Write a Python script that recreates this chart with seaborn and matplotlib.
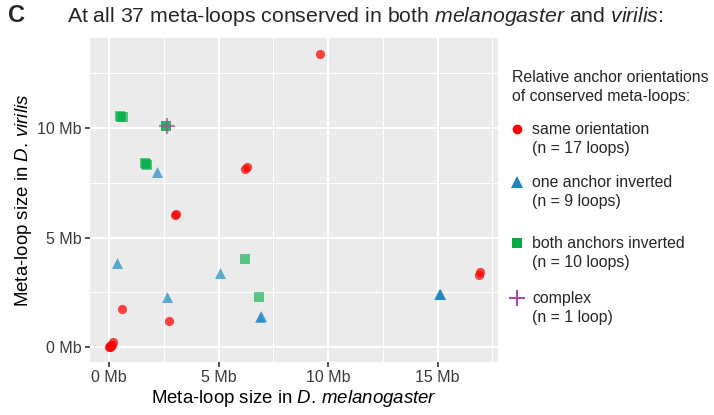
import matplotlib
matplotlib.use("Agg")
import matplotlib.pyplot as plt
import seaborn as sns
import pandas as pd
from matplotlib.lines import Line2D

# ---- data (Mb) ----
same_x = [9.62, 6.19, 6.30, 3.03, 3.08, 0.61, 2.76, 16.88, 16.95,
          0.02, 0.05, 0.08, 0.10, 0.06, 0.20, 0.12, 0.04]
same_y = [13.40, 8.11, 8.20, 6.01, 6.07, 1.72, 1.19, 3.31, 3.41,
          0.02, 0.04, 0.06, 0.08, 0.03, 0.21, 0.10, 0.01]
one_x = [2.18, 0.38, 5.08, 2.65, 6.88, 6.93, 15.08, 15.10, 15.12]
one_y = [8.00, 3.82, 3.36, 2.27, 1.36, 1.40, 2.42, 2.43, 2.41]
both_x = [0.50, 0.62, 0.56, 2.61, 1.64, 1.73, 1.69, 6.22, 6.86, 2.60]
both_y = [10.57, 10.48, 10.52, 10.08, 8.39, 8.30, 8.34, 4.02, 2.28, 10.07]
complex_x = [2.63]
complex_y = [10.08]

categories = ["same orientation", "one anchor inverted",
              "both anchors inverted", "complex"]
counts = ["(n = 17 loops)", "(n = 9 loops)", "(n = 10 loops)", "(n = 1 loop)"]
x_ticks = [0, 5, 10, 15]
y_ticks = [0, 5, 10]
tick_labels_x = ["0 Mb", "5 Mb", "10 Mb", "15 Mb"]
tick_labels_y = ["0 Mb", "5 Mb", "10 Mb"]

df = pd.concat([
    pd.DataFrame({"x": same_x, "y": same_y, "cat": categories[0]}),
    pd.DataFrame({"x": one_x, "y": one_y, "cat": categories[1]}),
    pd.DataFrame({"x": both_x, "y": both_y, "cat": categories[2]}),
    pd.DataFrame({"x": complex_x, "y": complex_y, "cat": categories[3]}),
], ignore_index=True)

colors = {categories[0]: "#FF0000", categories[1]: "#1A86C2",
          categories[2]: "#00AD45", categories[3]: "#A64CA6"}
alphas = {categories[0]: 0.72, categories[1]: 0.68,
          categories[2]: 0.62, categories[3]: 0.7}
markers = {categories[0]: "o", categories[1]: "^",
           categories[2]: "s", categories[3]: "+"}
sizes = {categories[0]: 44, categories[1]: 62,
         categories[2]: 50, categories[3]: 120}

sns.set_theme(style="darkgrid")
plt.rcParams["font.family"] = ["Liberation Sans", "DejaVu Sans"]
plt.rcParams["mathtext.fontset"] = "custom"
plt.rcParams["mathtext.rm"] = "Liberation Sans"
plt.rcParams["mathtext.it"] = "Liberation Sans:italic"

W, H = 714, 415
fig = plt.figure(figsize=(W / 100, H / 100), dpi=100)
ax = fig.add_axes([90 / W, 1 - 362 / H, 408 / W, 324 / H])
ax.set_facecolor("#EBEBEB")

for c in categories:
    sub = df[df["cat"] == c]
    kw = dict(data=sub, x="x", y="y", ax=ax, color=colors[c], alpha=alphas[c],
              marker=markers[c], s=sizes[c], legend=False, zorder=3)
    if markers[c] == "+":
        kw.update(linewidth=1.6)
    else:
        kw.update(linewidth=0)
    sns.scatterplot(**kw)

ax.set_xlim(-0.868, 17.76)
ax.set_ylim(-0.685, 14.11)
ax.set_xticks(x_ticks)
ax.set_xticklabels(tick_labels_x)
ax.set_yticks(y_ticks)
ax.set_yticklabels(tick_labels_y)
ax.set_xticks([2.5, 7.5, 12.5, 17.5], minor=True)
ax.set_yticks([2.5, 7.5, 12.5], minor=True)
ax.grid(which="major", color="white", linewidth=1.5)
ax.grid(which="minor", color="white", linewidth=0.75)
ax.set_axisbelow(True)
for s in ax.spines.values():
    s.set_visible(False)
ax.tick_params(axis="both", which="major", length=3.5, width=1.2,
               color="#333333", labelsize=11.5, labelcolor="#3A3A3A", pad=2.5)
ax.tick_params(axis="both", which="minor", length=0)
ax.tick_params(axis="x", bottom=True)
ax.tick_params(axis="y", left=True)

ax.set_xlabel(r"Meta-loop size in $\it{D.\,melanogaster}$", fontsize=13.4,
              color="black")
ax.set_ylabel(r"Meta-loop size in $\it{D.\,virilis}$", fontsize=13.4,
              color="black")
ax.xaxis.set_label_coords(0.5, -(398 - 362) / 324, transform=ax.transAxes)
ax.yaxis.set_label_coords(-(90 - 24) / 408, 0.5)
ax.xaxis.label.set_va("center")
ax.yaxis.label.set_va("center")

def fx(px):
    return px / W

def fy(py):
    return 1 - py / H

fig.text(fx(8), fy(16), "C", fontsize=17, fontweight="bold", va="center",
         ha="left")
fig.text(fx(67), fy(16),
         r"At all 37 meta-loops conserved in both $\it{melanogaster}$ and $\it{virilis}$:",
         fontsize=15.3, va="center", ha="left")

# legend
lf = 11.4
fig.text(fx(512), fy(77), "Relative anchor orientations", fontsize=lf,
         va="center", ha="left")
fig.text(fx(512), fy(96), "of conserved meta-loops:", fontsize=lf,
         va="center", ha="left")
first_y = [129, 182, 243, 298]
second_y = [149, 201, 262, 317]
leg_ms = {categories[0]: 7, categories[1]: 8.5, categories[2]: 7.5,
          categories[3]: 12}
for c, n, y1, y2 in zip(categories, counts, first_y, second_y):
    fig.add_artist(Line2D([fx(517)], [fy(y1)], marker=markers[c],
                          color=colors[c], markersize=leg_ms[c],
                          markeredgewidth=1.5 if markers[c] == "+" else 0,
                          linestyle="none", transform=fig.transFigure))
    fig.text(fx(532), fy(y1), c, fontsize=lf, va="center", ha="left")
    fig.text(fx(532), fy(y2), n, fontsize=lf, va="center", ha="left")

fig.savefig("out.png", dpi=100)
